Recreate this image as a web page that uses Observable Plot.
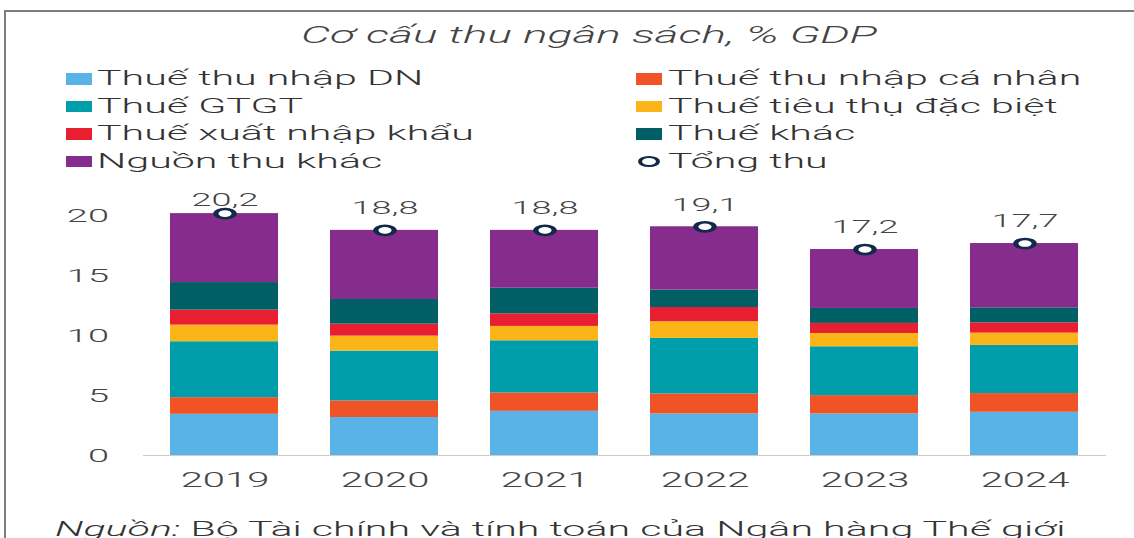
<!DOCTYPE html>
<html>
<head>
<meta charset="utf-8">
<script src="https://cdn.jsdelivr.net/npm/d3@7"></script>
<script src="https://cdn.jsdelivr.net/npm/@observablehq/plot@0.6"></script>
<style>
  html, body { margin: 0; padding: 0; background: #fff; overflow: hidden; }
  #wrap { position: relative; width: 567px; height: 538px; transform: scaleX(2); transform-origin: 0 0; font-family: Roboto, "Noto Sans", sans-serif; }
  #frame { position: absolute; left: 2px; top: 10px; width: 600px; height: 600px; border-top: 2px solid #7d7d7d; border-left: 1px solid #7d7d7d; }
  #title { position: absolute; left: 0; top: 21.5px; width: 589px; text-align: center; font-size: 23px; line-height: 27px; font-style: italic; font-weight: 300; color: #444; white-space: nowrap; }
  .sw { position: absolute; width: 13px; height: 11.7px; }
  .ring { position: absolute; width: 7.5px; height: 7.7px; border: 2px solid #12294a; border-radius: 50%; background: #fff; }
  .lt { position: absolute; font-size: 20.6px; line-height: 27.5px; color: #333; font-weight: 300; white-space: nowrap; }
  #chart { position: absolute; left: 0; top: 180px; }
  #caption { position: absolute; left: 27.5px; top: 515.5px; font-size: 20.6px; line-height: 27.5px; color: #333; font-weight: 300; white-space: nowrap; }
</style>
</head>
<body>
<div id="wrap">
  <div id="frame"></div>
  <div id="title">Cơ cấu thu ngân sách, % GDP</div>
  <div id="legend"></div>
  <div id="chart"></div>
  <div id="caption"><i>Nguồn:</i> Bộ Tài chính và tính toán của Ngân hàng Thế giới</div>
</div>
<script>
// ---- Data ----
const years = ["2019", "2020", "2021", "2022", "2023", "2024"];
const seriesNames = [
  "Thuế thu nhập DN",
  "Thuế thu nhập cá nhân",
  "Thuế GTGT",
  "Thuế tiêu thụ đặc biệt",
  "Thuế xuất nhập khẩu",
  "Thuế khác",
  "Nguồn thu khác"
];
const seriesColors = ["#5ab3e6", "#ef5326", "#009eab", "#fbb519", "#e81f30", "#005e65", "#852c8c"];
const totalName = "Tổng thu";

const thueTNDN   = [3.44, 3.17, 3.69, 3.47, 3.47, 3.61];
const thueTNCN   = [1.39, 1.39, 1.53, 1.67, 1.53, 1.56];
const thueGTGT   = [4.67, 4.16, 4.36, 4.64, 4.08, 4.02];
const thueTTDB   = [1.39, 1.25, 1.20, 1.39, 1.11, 1.03];
const thueXNK    = [1.25, 1.00, 1.05, 1.19, 0.84, 0.86];
const thueKhac   = [2.30, 2.06, 2.14, 1.45, 1.25, 1.25];
const nguonKhac  = [5.76, 5.77, 4.83, 5.29, 4.92, 5.37];
const tongThu    = [20.2, 18.8, 18.8, 19.1, 17.2, 17.7];
const yTicks     = [0, 5, 10, 15, 20];

// ---- Tables built from the arrays ----
const seriesValues = [thueTNDN, thueTNCN, thueGTGT, thueTTDB, thueXNK, thueKhac, nguonKhac];
const rows = [];
years.forEach((yr, i) => {
  seriesNames.forEach((s, j) => rows.push({ year: yr, series: s, value: seriesValues[j][i] }));
});
const totals = years.map((yr, i) => ({ year: yr, total: tongThu[i], label: tongThu[i].toFixed(1).replace(".", ",") }));

// ---- Legend ----
const legend = document.getElementById("legend");
const colX = [32.5, 318];
const textOff = 16;
const baselines = [86, 113.5, 141, 168.5];
const legendItems = seriesNames.map((s, j) => ({ name: s, color: seriesColors[j] })).concat([{ name: totalName, ring: true }]);
legendItems.forEach((it, i) => {
  const c = i % 2, r = Math.floor(i / 2);
  const x = colX[c], b = baselines[r];
  const sw = document.createElement("div");
  if (it.ring) {
    sw.className = "ring";
    sw.style.left = (x + 0.5) + "px";
    sw.style.top = (b - 12.7) + "px";
  } else {
    sw.className = "sw";
    sw.style.left = x + "px";
    sw.style.top = (b - 12.7) + "px";
    sw.style.background = it.color;
  }
  legend.appendChild(sw);
  const t = document.createElement("div");
  t.className = "lt";
  t.style.left = (x + textOff) + "px";
  t.style.top = (b - 20.6) + "px";
  t.textContent = it.name;
  legend.appendChild(t);
});

// ---- Chart ----
const chart = Plot.plot({
  width: 567,
  height: 315,
  marginTop: 35.5,
  marginBottom: 40,
  marginLeft: 71.5,
  marginRight: 14,
  style: { fontFamily: "Roboto, sans-serif", fontWeight: 300, background: "transparent", overflow: "visible" },
  x: { domain: years, paddingInner: 0.33, paddingOuter: 0.165, axis: null },
  y: { domain: [0, 20], axis: null },
  color: { domain: seriesNames, range: seriesColors },
  marks: [
    Plot.axisY({ ticks: yTicks, tickSize: 0, tickPadding: 17.5, fontSize: 19, fill: "#444", label: null }),
    Plot.axisX({ tickSize: 0, tickPadding: 17, fontSize: 20, fill: "#444", label: null }),
    Plot.barY(rows, { x: "year", y: "value", fill: "series", order: seriesNames }),
    Plot.ruleY([0], { stroke: "#cccccc", strokeWidth: 1.2 }),
    Plot.dot(totals, { x: "year", y: "total", r: 4.6, fill: "white", stroke: "#12294a", strokeWidth: 2.6 }),
    Plot.text(totals.filter(d => d.total < 20), { x: "year", y: "total", text: "label", dy: -22, fontSize: 18, fill: "#444" }),
    Plot.text(totals.filter(d => d.total >= 20), { x: "year", y: "total", text: "label", dy: -13, fontSize: 18, fill: "#444" })
  ]
});
document.getElementById("chart").appendChild(chart);
</script>
</body>
</html>
